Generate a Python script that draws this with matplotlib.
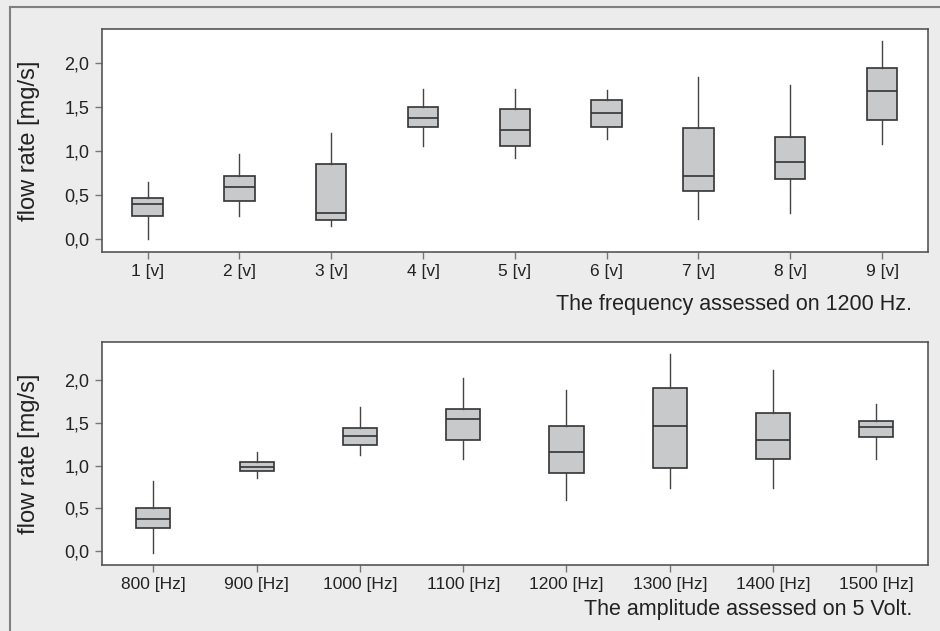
import matplotlib
matplotlib.use('Agg')
import matplotlib.pyplot as plt
from matplotlib.lines import Line2D

plt.rcParams['font.family'] = ['Liberation Sans', 'DejaVu Sans']

# voltage series, 1200 Hz
volt_labels = ['1 [v]', '2 [v]', '3 [v]', '4 [v]', '5 [v]', '6 [v]', '7 [v]', '8 [v]', '9 [v]']
volt_whislo = [0.00, 0.26, 0.15, 1.06, 0.92, 1.14, 0.23, 0.30, 1.08]
volt_q1 = [0.27, 0.44, 0.22, 1.28, 1.06, 1.28, 0.55, 0.68, 1.36]
volt_med = [0.40, 0.59, 0.30, 1.38, 1.24, 1.44, 0.72, 0.875, 1.68]
volt_q3 = [0.47, 0.72, 0.86, 1.50, 1.48, 1.58, 1.27, 1.16, 1.95]
volt_whishi = [0.65, 0.97, 1.21, 1.71, 1.71, 1.70, 1.85, 1.75, 2.25]

# frequency series, 5 V
freq_labels = ['800 [Hz]', '900 [Hz]', '1000 [Hz]', '1100 [Hz]', '1200 [Hz]', '1300 [Hz]', '1400 [Hz]', '1500 [Hz]']
freq_whislo = [-0.02, 0.86, 1.12, 1.08, 0.60, 0.74, 0.74, 1.08]
freq_q1 = [0.275, 0.94, 1.24, 1.295, 0.91, 0.97, 1.08, 1.34]
freq_med = [0.38, 0.98, 1.35, 1.54, 1.16, 1.46, 1.30, 1.45]
freq_q3 = [0.51, 1.04, 1.44, 1.66, 1.46, 1.905, 1.61, 1.52]
freq_whishi = [0.82, 1.155, 1.68, 2.02, 1.88, 2.30, 2.115, 1.715]

y_ticks = [0.0, 0.5, 1.0, 1.5, 2.0]
y_ticklabels = ['0,0', '0,5', '1,0', '1,5', '2,0']

bg = '#ececec'
fig = plt.figure(figsize=(9.4, 6.31), dpi=100, facecolor=bg)

# outer frame lines (top and left)
fig.add_artist(Line2D([10 / 940, 1], [1 - 7 / 631, 1 - 7 / 631], color='#808080', lw=1.5))
fig.add_artist(Line2D([10 / 940, 10 / 940], [0, 1 - 7 / 631], color='#808080', lw=1.5))


def draw_panel(ax, labels, lo, q1, med, q3, hi, ylim, caption, cap_y):
    stats = []
    for i in range(len(labels)):
        stats.append(dict(whislo=lo[i], q1=q1[i], med=med[i], q3=q3[i], whishi=hi[i], fliers=[]))
    ax.bxp(stats, positions=range(1, len(labels) + 1), widths=0.33, patch_artist=True,
           showcaps=False, showfliers=False,
           boxprops=dict(facecolor='#c8c9cb', edgecolor='#333333', linewidth=1.2),
           medianprops=dict(color='#333333', linewidth=1.2),
           whiskerprops=dict(color='#444444', linewidth=1.0))
    ax.set_xlim(0.5, len(labels) + 0.5)
    ax.set_ylim(*ylim)
    ax.set_xticks(range(1, len(labels) + 1))
    ax.set_xticklabels(labels, fontsize=12.5, color='#222222')
    ax.set_yticks(y_ticks)
    ax.set_yticklabels(y_ticklabels, fontsize=13, color='#222222')
    ax.tick_params(length=5, width=1, color='#777777', pad=4)
    for s in ax.spines.values():
        s.set_color('#555555')
        s.set_linewidth(1.2)
    ax.set_ylabel('flow rate [mg/s]', fontsize=17, color='#222222')
    ax.yaxis.set_label_coords(-0.0747, 0.5)
    ax.set_facecolor('white')
    ax.text(0.981, cap_y, caption, transform=ax.transAxes, ha='right', va='center',
            fontsize=15.5, color='#222222')


ax1 = fig.add_axes([0.1082, 0.6011, 0.879, 0.3529])
draw_panel(ax1, volt_labels, volt_whislo, volt_q1, volt_med, volt_q3, volt_whishi,
           (-0.141, 2.39), 'The frequency assessed on 1200 Hz.', -0.237)

ax2 = fig.add_axes([0.1082, 0.1046, 0.879, 0.3529])
draw_panel(ax2, freq_labels, freq_whislo, freq_q1, freq_med, freq_q3, freq_whishi,
           (-0.16, 2.44), 'The amplitude assessed on 5 Volt.', -0.202)

fig.savefig('out.png', dpi=100, facecolor=bg)
